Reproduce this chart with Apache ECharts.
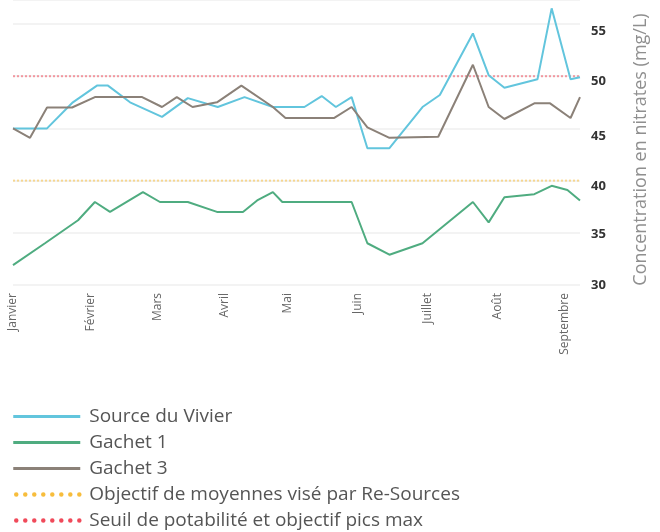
<!DOCTYPE html>
<html>
<head>
<meta charset="utf-8">
<script src="https://cdn.jsdelivr.net/npm/echarts@6/dist/echarts.min.js"></script>
<style>
  html, body { margin: 0; padding: 0; background: #fff; }
  #chart { width: 660px; height: 532px; }
</style>
</head>
<body>
<div id="chart"></div>
<script>
// x en semaines depuis début janvier
const months = ['Janvier', 'Février', 'Mars', 'Avril', 'Mai', 'Juin', 'Juillet', 'Août', 'Septembre']
const monthPos = [0, 4.9, 9.15, 13.45, 17.45, 21.9, 26.35, 30.75, 35.05]
const yTicks = [30, 35, 40, 45, 50, 55]

const sourceVivier = [
  [0, 45.0], [2.16, 45.0], [3.8, 47.5], [5.33, 49.1], [6.03, 49.1], [7.43, 47.5],
  [9.46, 46.1], [11.1, 47.9], [13.0, 47.05], [14.7, 48.0], [16.5, 47.05], [18.5, 47.05],
  [19.6, 48.1], [20.5, 47.05], [21.5, 48.0], [22.5, 43.1], [23.9, 43.1], [26.0, 47.05],
  [27.1, 48.2], [29.2, 54.1], [30.2, 50.1], [31.2, 48.9], [33.3, 49.7], [34.2, 56.5],
  [35.4, 49.7], [36.0, 49.9]
]
const gachet1 = [
  [0, 31.9], [2.03, 34.0], [4.13, 36.2], [5.2, 37.95], [6.16, 37.0], [8.25, 38.9],
  [9.33, 37.95], [11.1, 37.95], [12.95, 37.0], [14.6, 37.0], [15.5, 38.1], [16.5, 38.9],
  [17.1, 37.95], [21.5, 37.95], [22.5, 34.0], [23.9, 32.9], [26.0, 34.0], [29.2, 37.95],
  [30.2, 36.0], [31.2, 38.4], [33.1, 38.7], [34.2, 39.5], [35.2, 39.1], [36.0, 38.1]
]
const gachet3 = [
  [0, 45.0], [1.08, 44.1], [2.16, 47.0], [3.75, 47.0], [5.2, 48.0], [8.2, 48.0],
  [9.46, 47.05], [10.4, 48.0], [11.4, 47.05], [12.95, 47.5], [14.5, 49.1], [16.5, 47.05],
  [17.3, 46.0], [20.4, 46.0], [21.5, 47.05], [22.5, 45.1], [23.9, 44.1], [27.0, 44.2],
  [29.2, 51.1], [30.2, 47.05], [31.2, 45.9], [33.1, 47.4], [34.1, 47.4], [35.4, 46.0],
  [36.0, 48.0]
]
const objectifMoyenne = [[0, 40], [36, 40]]
const seuilPotabilite = [[0, 50], [36, 50]]

const chart = echarts.init(document.getElementById('chart'))

const font = "'Open Sans', 'Noto Sans', sans-serif"

// décalage vertical des étiquettes de l'axe y (comme sur l'original)
const labelShift = { 55: 14, 50: 10, 45: 16, 40: 12, 35: 3, 30: 1 }

const lineSeries = (name, data, color) => ({
  name: name,
  type: 'line',
  data: data,
  symbol: 'none',
  showSymbol: false,
  lineStyle: { color: color, width: 2 },
  itemStyle: { color: color }
})

const dotSeries = (name, data, color) => ({
  name: name,
  type: 'line',
  data: data,
  symbol: 'none',
  showSymbol: false,
  z: 1,
  lineStyle: { color: color, width: 2, type: [2, 2], opacity: 0.55 },
  itemStyle: { color: color }
})

const dotIcon = { width: 4.5, type: [0.01, 9], cap: 'round', opacity: 1, dashOffset: -3 }

const rich = {}
yTicks.forEach(v => {
  rich['t' + v] = {
    fontFamily: font, fontWeight: 'bold', fontSize: 13, color: '#333',
    lineHeight: labelShift[v]
  }
})

const option = {
  animation: false,
  grid: { left: 13, right: 80, top: 0, bottom: 247 },
  legend: {
    orient: 'vertical',
    left: 11,
    top: 407,
    height: 140,
    padding: 0,
    itemWidth: 67,
    itemHeight: 16,
    itemGap: 7,
    itemStyle: { opacity: 0 },
    textStyle: { fontFamily: font, fontSize: 19, color: '#555', padding: [0, 0, 0, 4] },
    data: [
      { name: 'Source du Vivier', lineStyle: { width: 3 } },
      { name: 'Gachet 1', lineStyle: { width: 3 } },
      { name: 'Gachet 3', lineStyle: { width: 3 } },
      { name: 'Objectif de moyennes visé par Re-Sources', lineStyle: dotIcon },
      { name: 'Seuil de potabilité et objectif pics max', lineStyle: dotIcon }
    ]
  },
  xAxis: {
    type: 'value',
    min: 0,
    max: 36,
    axisLine: { show: false },
    axisTick: { show: false },
    splitLine: { show: false },
    axisLabel: {
      customValues: monthPos,
      rotate: 90,
      margin: 8,
      fontFamily: font,
      fontSize: 12,
      color: '#666',
      formatter: function (v) {
        const i = monthPos.indexOf(v)
        return i >= 0 ? months[i] : ''
      }
    }
  },
  yAxis: {
    type: 'value',
    position: 'right',
    min: 30,
    max: 57.3,
    interval: 5,
    name: 'Concentration en nitrates (mg/L)',
    nameLocation: 'middle',
    nameRotate: 90,
    nameGap: 52,
    nameTextStyle: { fontFamily: font, fontSize: 18, color: '#8f8f8f', padding: [0, 14, 0, 0] },
    axisLine: { show: false },
    axisTick: { show: false },
    splitLine: { lineStyle: { color: '#f3f3f3', width: 2 } },
    axisLabel: {
      showMaxLabel: false,
      margin: 11,
      verticalAlign: 'top',
      fontFamily: font,
      fontWeight: 'bold',
      fontSize: 13,
      color: '#333',
      rich: rich,
      formatter: function (v) {
        return yTicks.indexOf(v) >= 0 ? '{t' + v + '|' + v + '}' : ''
      }
    }
  },
  series: [
    lineSeries('Source du Vivier', sourceVivier, '#62c5dd'),
    lineSeries('Gachet 1', gachet1, '#4fac80'),
    lineSeries('Gachet 3', gachet3, '#8b8178'),
    dotSeries('Objectif de moyennes visé par Re-Sources', objectifMoyenne, '#f7bd3c'),
    dotSeries('Seuil de potabilité et objectif pics max', seuilPotabilite, '#f04a5a')
  ]
}

chart.setOption(option)
</script>
</body>
</html>
